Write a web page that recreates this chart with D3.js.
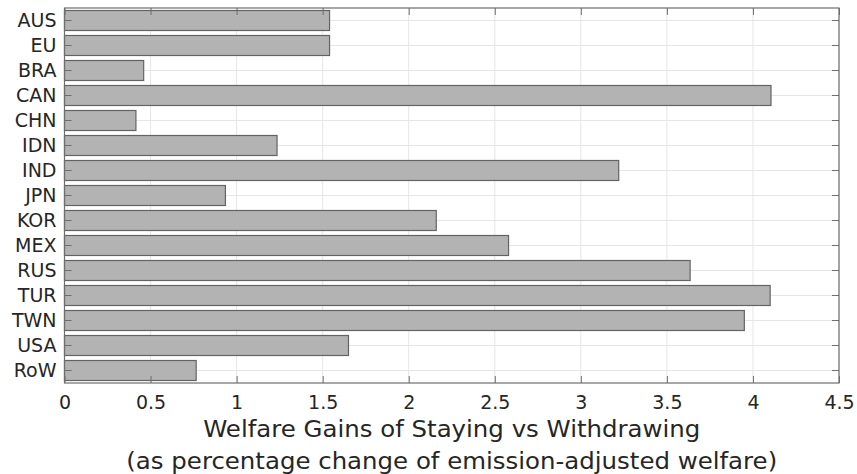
<!DOCTYPE html>
<html>
<head>
<meta charset="utf-8">
<script src="https://cdn.jsdelivr.net/npm/d3@7"></script>
<style>
  html, body { margin: 0; padding: 0; background: #fff; }
  svg { display: block; }
  text { font-family: "DejaVu Sans", sans-serif; fill: #262626; }
</style>
</head>
<body>
<svg id="chart" width="857" height="474"></svg>
<script>
// Regions and their welfare gains (% change of emission-adjusted welfare)
const regions = ["AUS", "EU", "BRA", "CAN", "CHN", "IDN", "IND", "JPN", "KOR", "MEX", "RUS", "TUR", "TWN", "USA", "RoW"];
const gains = [1.54, 1.54, 0.46, 4.105, 0.415, 1.235, 3.22, 0.935, 2.16, 2.58, 3.635, 4.10, 3.95, 1.65, 0.765];
const xTicks = [0, 0.5, 1, 1.5, 2, 2.5, 3, 3.5, 4, 4.5];
const xLabelLines = ["Welfare Gains of Staying vs Withdrawing", "(as percentage change of emission-adjusted welfare)"];

const svg = d3.select("#chart");
const margin = { left: 64.5, right: 857 - 839, top: 8, bottom: 474 - 383 };
const W = 857, H = 474;
const plotW = W - margin.left - margin.right;
const plotH = H - margin.top - margin.bottom;

const x = d3.scaleLinear().domain([0, 4.5]).range([0, plotW]);
const y = d3.scaleBand().domain(regions).range([0, plotH]).paddingInner(0.2).paddingOuter(0.1);

const g = svg.append("g").attr("transform", `translate(${margin.left},${margin.top})`);

// grid lines
g.append("g").selectAll("line").data(xTicks).join("line")
  .attr("x1", d => x(d)).attr("x2", d => x(d))
  .attr("y1", 0).attr("y2", plotH)
  .attr("stroke", "#e6e6e6").attr("stroke-width", 1);
g.append("g").selectAll("line").data(regions).join("line")
  .attr("x1", 0).attr("x2", plotW)
  .attr("y1", d => y(d) + y.bandwidth() / 2).attr("y2", d => y(d) + y.bandwidth() / 2)
  .attr("stroke", "#e6e6e6").attr("stroke-width", 1);

// bars
g.append("g").selectAll("rect").data(regions).join("rect")
  .attr("x", x(0))
  .attr("y", d => y(d))
  .attr("width", (d, i) => x(gains[i]) - x(0))
  .attr("height", y.bandwidth())
  .attr("fill", "#b3b3b3")
  .attr("stroke", "#636363")
  .attr("stroke-width", 1.2);

// axes: boxed frame with inward ticks on all four sides
const axisColor = "#6e6e6e";
const tickLen = 7;
const tickFont = 19;

const xBottom = g.append("g").attr("transform", `translate(0,${plotH})`)
  .call(d3.axisBottom(x).tickValues(xTicks).tickFormat(d3.format("~g")).tickSizeInner(-tickLen).tickSizeOuter(0).tickPadding(12.5));
const xTop = g.append("g")
  .call(d3.axisTop(x).tickValues(xTicks).tickFormat("").tickSizeInner(-tickLen).tickSizeOuter(0));
const yLeft = g.append("g")
  .call(d3.axisLeft(y).tickSizeInner(-tickLen).tickSizeOuter(0).tickPadding(8));
const yRight = g.append("g").attr("transform", `translate(${plotW},0)`)
  .call(d3.axisRight(y).tickFormat("").tickSizeInner(-tickLen).tickSizeOuter(0));

[xBottom, xTop, yLeft, yRight].forEach(a => {
  a.select(".domain").remove();
  a.selectAll(".tick line").attr("stroke", axisColor).attr("stroke-width", 1);
  a.selectAll("text").style("font-family", "'DejaVu Sans', sans-serif").attr("font-size", tickFont).attr("fill", "#262626");
});

// frame
g.append("rect").attr("x", 0).attr("y", 0).attr("width", plotW).attr("height", plotH)
  .attr("fill", "none").attr("stroke", axisColor).attr("stroke-width", 1.2);

// x-axis title (two lines)
const cx = margin.left + plotW / 2;
svg.append("g").selectAll("text").data(xLabelLines).join("text")
  .attr("transform", (d, i) => `translate(${cx},${437 + i * 31.5}) scale(1.04,1)`)
  .attr("text-anchor", "middle")
  .attr("font-size", 23.5)
  .text(d => d);
</script>
</body>
</html>
